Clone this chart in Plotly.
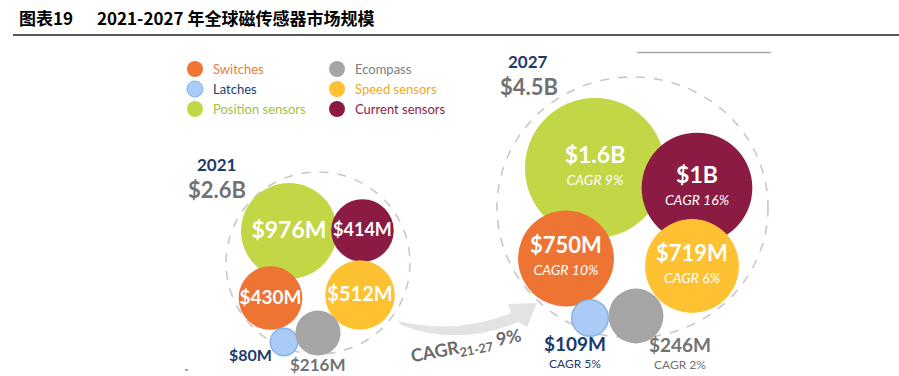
import plotly.graph_objects as go

# ---------------- data ----------------
categories = ["Switches", "Latches", "Position sensors", "Ecompass", "Speed sensors", "Current sensors"]
values_2021 = [430, 80, 976, 216, 512, 414]      # $M
values_2027 = [750, 109, 1600, 246, 719, 1000]   # $M
cagr_21_27 = [10, 5, 9, 2, 6, 16]                # %
years = ["2021", "2027"]
totals_b = [2.6, 4.5]                            # $B
overall_cagr = 9
title_prefix = "图表19"
title_text = "2021-2027 年全球磁传感器市场规模"

# ---------------- styles / layout ----------------
W, H = 899, 376
FONT = "Lato"
fill_colors = ["#ED7433", "#AACBF6", "#C3D645", "#A5A5A5", "#FDC132", "#8B1B43"]
line_colors = ["#ED7433", "#86B3EC", "#C3D645", "#A5A5A5", "#FDC132", "#8B1B43"]
legend_text_colors = ["#EE7B3E", "#1F3C6E", "#A7BF3A", "#7D7D7D", "#F2A81D", "#8B1B43"]
inside = [True, False, True, False, True, True]
draw_order = [2, 5, 0, 4, 1, 3]
NAVY = "#1B3A6E"
GRAY = "#727272"

# bubble centres (pixels) and max-bubble diameter for each year cluster
pos_2021 = [(270.5, 298), (284, 342), (289, 231), (318, 333), (360, 295), (362.5, 230.5)]
pos_2027 = [(566, 258.5), (590, 318), (595, 168), (636, 316), (692, 266), (697, 188)]
max_diam = [96, 140]
inner_font_2021 = [19, 0, 23, 0, 20, 18]
inner_font_2027 = [22, 0, 23, 0, 22, 23]

legend_pos = [(195, 69), (195, 89), (195, 109), (337, 69), (337, 89), (337, 109)]


def fmt(v):
    return f"${v/1000:g}B" if v >= 1000 else f"${v}M"


fig = go.Figure()

# bubbles
for vals, pos, dmax in [(values_2021, pos_2021, max_diam[0]), (values_2027, pos_2027, max_diam[1])]:
    sizeref = 2.0 * max(vals) / dmax ** 2
    fig.add_trace(go.Scatter(
        x=[pos[i][0] for i in draw_order],
        y=[pos[i][1] for i in draw_order],
        mode="markers",
        marker=dict(size=[vals[i] for i in draw_order], sizemode="area", sizeref=sizeref,
                    color=[fill_colors[i] for i in draw_order], opacity=1,
                    line=dict(color=[line_colors[i] for i in draw_order],
                              width=[1.5 if i == 1 else 0 for i in draw_order])),
        hoverinfo="skip", showlegend=False))

# inside labels 2021
idx = [i for i in range(len(categories)) if inside[i]]
fig.add_trace(go.Scatter(
    x=[pos_2021[i][0] for i in idx], y=[pos_2021[i][1] + 1 for i in idx],
    mode="text", text=[fmt(values_2021[i]) for i in idx],
    textfont=dict(family=FONT, color="white", size=[inner_font_2021[i] for i in idx], weight="bold"),
    hoverinfo="skip", showlegend=False))

# inside labels 2027 (value + CAGR)
fig.add_trace(go.Scatter(
    x=[pos_2027[i][0] for i in idx], y=[pos_2027[i][1] - 11 for i in idx],
    mode="text", text=[fmt(values_2027[i]) for i in idx],
    textfont=dict(family=FONT, color="white", size=[inner_font_2027[i] for i in idx], weight="bold"),
    hoverinfo="skip", showlegend=False))
fig.add_trace(go.Scatter(
    x=[pos_2027[i][0] for i in idx], y=[pos_2027[i][1] + 13 for i in idx],
    mode="text", text=[f"CAGR {cagr_21_27[i]}%" for i in idx],
    textfont=dict(family=FONT, color="white", size=14, style="italic"),
    hoverinfo="skip", showlegend=False))

# outside labels for small bubbles
out_2021 = {1: (250, 354, NAVY, 16), 3: (318, 364, GRAY, 17)}
for i, (x, y, c, s) in out_2021.items():
    fig.add_annotation(x=x, y=y, text=fmt(values_2021[i]), showarrow=False,
                       font=dict(family=FONT, size=s, color=c, weight="bold"))
out_2027 = {1: (575, 343, NAVY), 3: (680, 344, GRAY)}
for i, (x, y, c) in out_2027.items():
    fig.add_annotation(x=x, y=y, text=fmt(values_2027[i]), showarrow=False,
                       font=dict(family=FONT, size=19, color=c, weight="bold"))
    fig.add_annotation(x=x, y=y + 20, text=f"CAGR {cagr_21_27[i]}%", showarrow=False,
                       font=dict(family=FONT, size=12, color=c))

# year headers
for (yr, tot, (x, y)) in zip(years, totals_b, [(216, 164), (528, 61)]):
    fig.add_annotation(x=x, y=y, text=yr, showarrow=False,
                       font=dict(family=FONT, size=17, color=NAVY, weight="bold"))
    fig.add_annotation(x=x + 1, y=y + 25, text=f"${tot:g}B", showarrow=False,
                       font=dict(family=FONT, size=22, color=GRAY, weight="bold"))

# legend
fig.add_trace(go.Scatter(
    x=[p[0] for p in legend_pos], y=[p[1] for p in legend_pos], mode="markers",
    marker=dict(size=16, color=fill_colors, line=dict(color=line_colors, width=[0, 1, 0, 0, 0, 0])),
    hoverinfo="skip", showlegend=False))
for i, cat in enumerate(categories):
    fig.add_annotation(x=legend_pos[i][0] + 16, y=legend_pos[i][1], text=cat, showarrow=False,
                       xanchor="left", font=dict(family=FONT, size=13, color=legend_text_colors[i]))

# overall CAGR arrow text
fig.add_annotation(x=466, y=346, text=f"<b>CAGR<sub>21-27</sub> {overall_cagr}%</b>", showarrow=False,
                   textangle=-11, font=dict(family=FONT, size=18, color="#6B6B6B"))

# title
fig.add_annotation(x=17, y=17, text=title_prefix, showarrow=False, xanchor="left",
                   font=dict(family="Noto Sans CJK SC", size=17, color="black", weight="bold"))
fig.add_annotation(x=95, y=17, text=title_text, showarrow=False, xanchor="left",
                   font=dict(family="Noto Sans CJK SC", size=17, color="black", weight="bold"))

shapes = [
    dict(type="line", x0=13, x1=W, y0=35, y1=35, line=dict(color="#222222", width=1.5), layer="above"),
    dict(type="line", x0=637, x1=771, y0=52.5, y1=52.5, line=dict(color="#A8A8A8", width=1.5)),
    dict(type="line", x0=185, x1=188, y0=370, y1=370, line=dict(color="#8090A8", width=1.5)),
    dict(type="circle", x0=226, x1=410, y0=172, y1=354, layer="below",
         line=dict(color="#C8C8C8", width=1.6, dash="dash")),
    dict(type="circle", x0=497, x1=768, y0=77, y1=338, layer="below",
         line=dict(color="#C8C8C8", width=1.6, dash="dash")),
    dict(type="path", layer="below", fillcolor="#E3E3E3", line=dict(width=0),
         path="M 398,321 Q 455,335 511,313 L 508,304 L 537,303 L 527,327 L 518,322 Q 458,347 401,325 Z"),
]

fig.update_layout(
    width=W, height=H, autosize=False,
    margin=dict(l=0, r=0, t=0, b=0, pad=0),
    paper_bgcolor="white", plot_bgcolor="white",
    xaxis=dict(range=[0, W], visible=False, fixedrange=True),
    yaxis=dict(range=[H, 0], visible=False, fixedrange=True),
    shapes=shapes, hovermode=False, showlegend=False,
)

fig.write_html("out.html", config={"displayModeBar": False},
               post_script="document.body.style.margin='0';document.body.style.padding='0';")
